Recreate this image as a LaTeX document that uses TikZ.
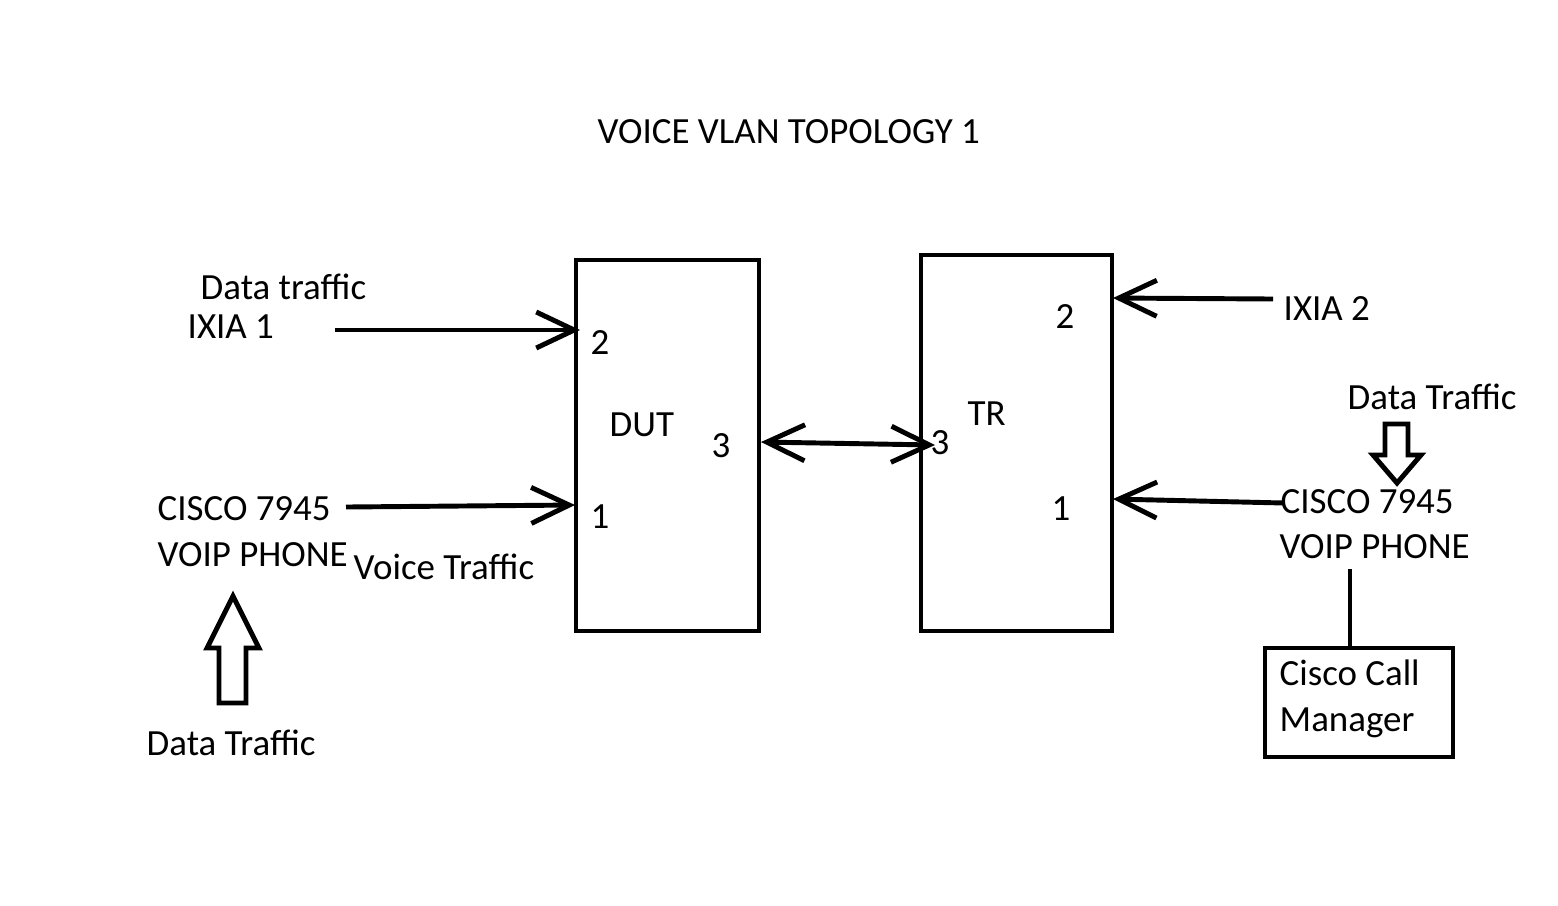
\documentclass[tikz,border=0pt]{standalone}
\usepackage{fontspec}
\setmainfont{Carlito}
\usetikzlibrary{arrows.meta}
\begin{document}
\begin{tikzpicture}[x=0.01cm,y=-0.01cm,
    lbl/.style={anchor=base west,inner sep=0pt,font=\fontsize{10.5}{12}\selectfont},
    unit/.style={draw,line width=1.15pt,inner sep=0pt},
    link/.style={line width=1.4pt,-{Straight Barb[length=0.38cm,width=0.36cm,line width=1.4pt]}},
    duplex/.style={line width=1.4pt,{Straight Barb[length=0.38cm,width=0.36cm,line width=1.4pt]}-{Straight Barb[length=0.38cm,width=0.36cm,line width=1.4pt]}},
    fat/.style={draw,line width=1.4pt,line join=miter}]
      \useasboundingbox (0,0) rectangle (1558,905);
      \node[lbl] (title) at (597,143) {VOICE VLAN TOPOLOGY 1};
      % boxes
      \node[unit,minimum width=1.83cm,minimum height=3.71cm] (dut) at (667.5,445.5) {};
      \node[unit,minimum width=1.91cm,minimum height=3.76cm] (tr) at (1016.5,443) {};
      \node[unit,minimum width=1.87cm,minimum height=1.09cm] (ccm) at (1359,702.5) {};
      \node[lbl] (dutname) at (609,436) {DUT};
      \node[lbl] (dutp2) at (590,354) {2};
      \node[lbl] (dutp1) at (590,528) {1};
      \node[lbl] (dutp3) at (711,457) {3};
      \node[lbl] (trname) at (967,425) {TR};
      \node[lbl] (trp3) at (930,454) {3};
      \node[lbl] (trp2) at (1055,328) {2};
      \node[lbl] (trp1) at (1051,520) {1};
      \node[lbl] (ccmtop) at (1279,685) {Cisco Call};
      \node[lbl] (ccmbot) at (1279,731) {Manager};
      % left side
      \node[lbl] (data1) at (200,299) {Data traffic};
      \node[lbl] (ixia1) at (187,338) {IXIA 1};
      \node[lbl] (phone1) at (157,520) {CISCO 7945};
      \node[lbl] (phone1b) at (157,566) {VOIP PHONE};
      \node[lbl] (voice) at (353,579) {Voice Traffic};
      \node[lbl] (data2) at (146,755) {Data Traffic};
      % right side
      \node[lbl] (ixia2) at (1283,320) {IXIA 2};
      \node[lbl] (data3) at (1347,409) {Data Traffic};
      \node[lbl] (phone2) at (1280,513) {CISCO 7945};
      \node[lbl] (phone2b) at (1279,558) {VOIP PHONE};
      % ports
      \coordinate (dut2) at (580,330);
      \coordinate (dut1) at (575,505);
      \coordinate (dut3) at (761,442);
      \coordinate (tr3) at (935,445);
      \coordinate (tr2) at (1113,298);
      \coordinate (tr1) at (1113,499);
      \coordinate (ixia1out) at (335,330);
      \coordinate (phone1out) at (346,507);
      \coordinate (ixia2out) at (1273,299);
      \coordinate (phone2out) at (1284,503);
      \coordinate (phone2base) at (1350,569);
      \draw[link] (ixia1out) -- (dut2);
      \draw[link] (phone1out) -- (dut1);
      \draw[duplex] (dut3) -- (tr3);
      \draw[link] (ixia2out) -- (tr2);
      \draw[link] (phone2out) -- (tr1);
      \draw[line width=1.15pt] (phone2base) -- (phone2base |- ccm.north);
      % hollow arrows
      \draw[fat] (219,703) -- (219,648) -- (207,648) -- (233,596) -- (259,648) -- (246,648) -- (246,703) -- cycle;
      \draw[fat] (1385,424) -- (1385,455) -- (1373,455) -- (1397,483) -- (1421,455) -- (1408,455) -- (1408,424) -- cycle;
    \end{tikzpicture}
\end{document}
